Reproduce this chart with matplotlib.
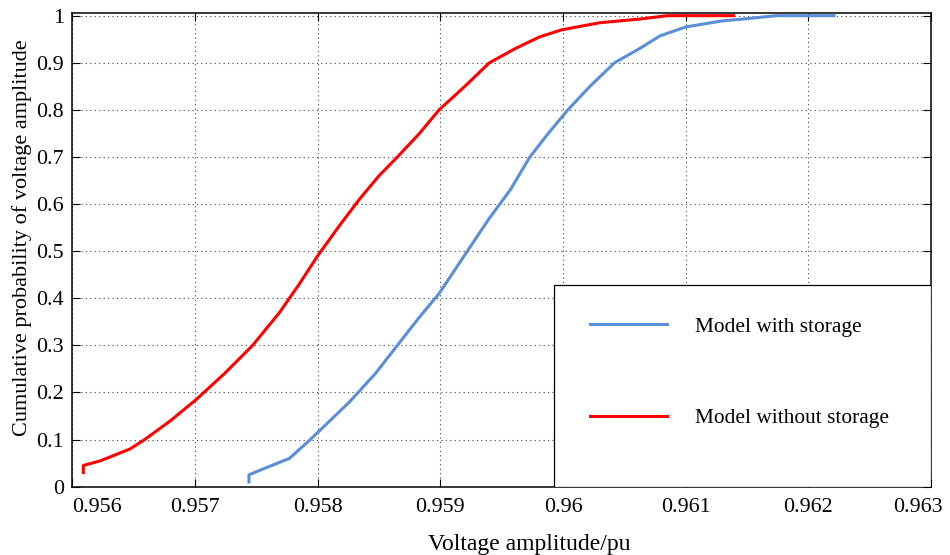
import numpy as np
import matplotlib
matplotlib.use("Agg")
import matplotlib.pyplot as plt
import matplotlib.transforms as mtransforms
from matplotlib.patches import Rectangle

# data (voltage in pu, cumulative probability)
v_without = [0.95609, 0.95609, 0.95623, 0.95647, 0.95659, 0.95680, 0.95701, 0.95724,
             0.95747, 0.95769, 0.95785, 0.95800, 0.95818, 0.95834, 0.95850, 0.95865,
             0.95883, 0.95899, 0.95920, 0.95940, 0.95961, 0.95981, 0.95999, 0.96030,
             0.96063, 0.96085, 0.96139]
p_without = [0.030, 0.045, 0.055, 0.080, 0.100, 0.140, 0.185, 0.240,
             0.300, 0.370, 0.430, 0.490, 0.555, 0.610, 0.660, 0.700,
             0.750, 0.800, 0.850, 0.900, 0.930, 0.955, 0.970, 0.985,
             0.993, 1.000, 1.000]

v_with = [0.95744, 0.95744, 0.95753, 0.95777, 0.95794, 0.95810, 0.95826, 0.95847,
          0.95865, 0.95883, 0.95899, 0.95922, 0.95940, 0.95957, 0.95973, 0.95988,
          0.96004, 0.96022, 0.96042, 0.96063, 0.96079, 0.96100, 0.96130, 0.96147,
          0.96174, 0.96221]
p_with = [0.010, 0.025, 0.035, 0.060, 0.100, 0.140, 0.180, 0.240,
          0.300, 0.360, 0.410, 0.500, 0.570, 0.630, 0.700, 0.750,
          0.800, 0.850, 0.900, 0.931, 0.957, 0.976, 0.989, 0.993,
          1.000, 1.000]

x_ticks = [0.956, 0.957, 0.958, 0.959, 0.960, 0.961, 0.962, 0.963]
x_labels = ["0.956", "0.957", "0.958", "0.959", "0.96", "0.961", "0.962", "0.963"]
y_ticks = [0, 0.1, 0.2, 0.3, 0.4, 0.5, 0.6, 0.7, 0.8, 0.9, 1.0]
y_labels = ["0", "0.1", "0.2", "0.3", "0.4", "0.5", "0.6", "0.7", "0.8", "0.9", "1"]

plt.rcParams['font.family'] = ['Liberation Serif', 'DejaVu Serif']

fig = plt.figure(figsize=(9.5, 5.55), dpi=100)
ax = fig.add_axes([0.0761, 0.1231, 0.9039, 0.8529])

ax.plot(v_with, p_with, color='#5a8ed8', lw=2.2, label='Model with storage')
ax.plot(v_without, p_without, color='#ff0000', lw=2.2, label='Model without storage')

ax.set_xlim(0.956, 0.963)
ax.set_ylim(0, 1.005)
ax.set_xticks(x_ticks)
ax.set_xticklabels(x_labels)
ax.set_yticks(y_ticks)
ax.set_yticklabels(y_labels)

ax.grid(True, linestyle=(0, (1, 3)), color='#444444', lw=0.8)
ax.tick_params(direction='in', top=True, right=True, length=6, width=0.8,
               labelsize=15.8, colors='black')
ax.tick_params(axis='x', pad=8)
ax.tick_params(axis='y', pad=6)
for s in ax.spines.values():
    s.set_linewidth(1.1)

# first and last x labels sit inside the axes span, like the original
xl = ax.get_xticklabels()
xl[0].set_ha('left')
xl[-1].set_transform(xl[-1].get_transform() +
                     mtransforms.ScaledTranslation(-13 / 100, 0, fig.dpi_scale_trans))

ax.set_xlabel('Voltage amplitude/pu', fontsize=17)
ax.set_ylabel('Cumulative probability of voltage amplitude', fontsize=16)
ax.xaxis.set_label_coords(0.532, -0.100)
ax.yaxis.set_label_coords(-0.047, 0.525)

# legend box (manual frame, MATLAB-like)
ax.add_patch(Rectangle((0.561, 0.0), 0.439, 0.426, transform=ax.transAxes,
                       facecolor='white', edgecolor='black', lw=0.9, zorder=3))
leg = ax.legend(loc='upper left', bbox_to_anchor=(0.580, 0.40), frameon=False,
                fontsize=15.4, handlelength=3.6, handletextpad=1.35, labelspacing=3.35)
leg.set_zorder(4)

fig.savefig('out.png', dpi=100)
